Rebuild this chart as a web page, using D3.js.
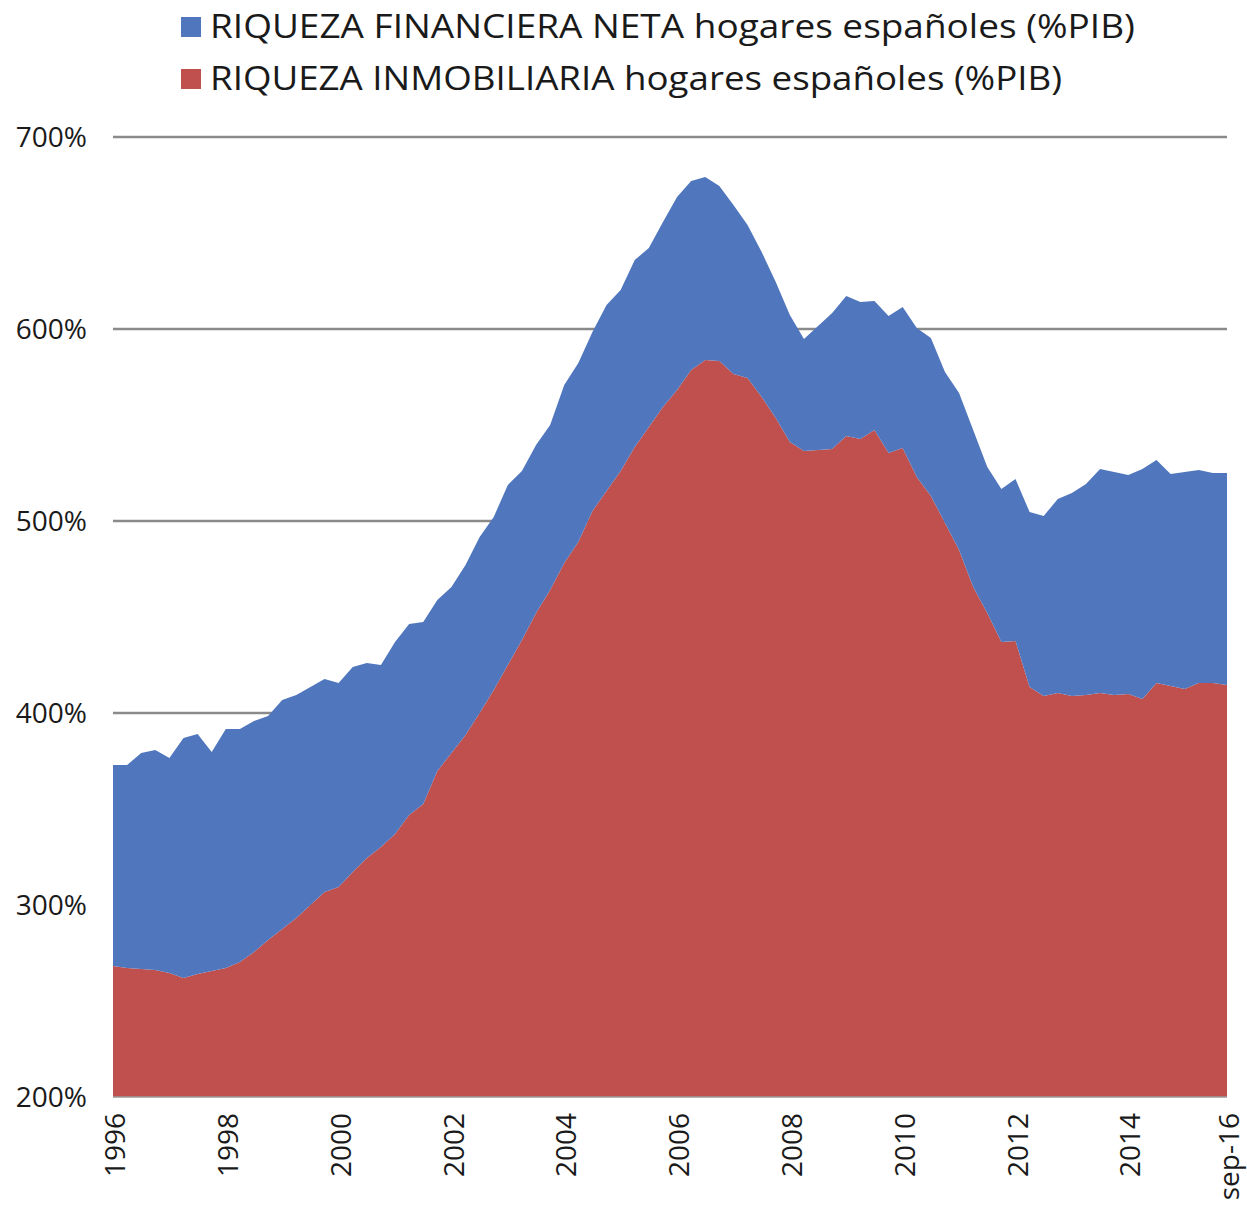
<!DOCTYPE html>
<html>
<head>
<meta charset="utf-8">
<script src="https://cdn.jsdelivr.net/npm/d3@7"></script>
<style>
  body { margin: 0; background: #fff; }
  svg text { font-family: "Open Sans", "Liberation Sans", sans-serif; fill: #1a1a1a; }
</style>
</head>
<body>
<svg width="1247" height="1213"></svg>
<script>
// quarterly, dic-96 ... sep-16 (80 points)
var inmobiliaria = [268.2, 267.2, 266.7, 266.1, 264.6, 262.0, 264.1, 265.6, 267.2, 270.3,
                    275.5, 281.8, 287.5, 293.2, 300.0, 306.8, 309.4, 317.2, 324.5, 330.2,
                    337.0, 346.9, 352.6, 369.8, 379.2, 388.5, 400.0, 412.0, 425.0, 438.0,
                    452.1, 464.1, 478.1, 489.1, 505.2, 515.6, 526.0, 538.5, 549.0, 559.4,
                    568.2, 578.6, 583.9, 583.3, 576.6, 574.5, 564.6, 553.6, 541.1, 536.5,
                    537.0, 537.5, 544.3, 542.7, 547.4, 535.4, 538.0, 522.9, 513.0, 499.0,
                    484.9, 465.6, 452.1, 437.0, 437.5, 413.5, 408.9, 410.4, 408.9, 409.4,
                    410.4, 409.4, 409.9, 407.3, 415.6, 414.1, 412.5, 415.6, 415.6, 414.6];

var financiera = [104.7, 105.7, 112.5, 114.6, 112.0, 125.0, 125.0, 114.1, 124.5, 121.4,
                  120.3, 116.6, 119.3, 116.2, 113.5, 110.9, 106.2, 106.8, 101.5, 94.8,
                  100.0, 99.5, 94.8, 89.1, 86.4, 88.6, 91.7, 90.1, 93.8, 88.0,
                  87.5, 85.9, 92.7, 93.2, 93.2, 96.9, 94.3, 97.4, 93.2, 96.3,
                  100.6, 98.5, 95.3, 91.2, 88.0, 79.7, 75.5, 70.9, 66.2, 58.3,
                  64.6, 70.8, 72.9, 71.4, 67.2, 71.4, 73.5, 77.6, 82.3, 78.6,
                  81.8, 81.8, 76.0, 79.7, 84.4, 91.2, 93.7, 101.1, 105.7, 109.9,
                  116.7, 116.1, 114.1, 119.8, 116.2, 110.4, 113.0, 111.0, 109.4, 110.4];

var tickIdx = [0, 8, 16, 24, 32, 40, 48, 56, 64, 72, 79];
var tickLabels = ["1996", "1998", "2000", "2002", "2004", "2006", "2008", "2010", "2012", "2014", "sep-16"];
var yTicks = [200, 300, 400, 500, 600, 700];

var seriesNames = ["RIQUEZA FINANCIERA NETA hogares españoles (%PIB)",
                   "RIQUEZA INMOBILIARIA hogares españoles (%PIB)"];
var colors = { fin: "#5076BD", inm: "#C0504D" };

var plotLeft = 113, plotRight = 1227, plotTop = 137, plotBottom = 1097;

var svg = d3.select('svg');

var rows = inmobiliaria.map(function(v, i){ return { i: i, inm: v, fin: financiera[i] } });

var x = d3.scaleLinear().domain([0, rows.length - 1]).range([plotLeft, plotRight]);
var y = d3.scaleLinear().domain([200, 700]).range([plotBottom, plotTop]);

var stacked = d3.stack().keys(["inm", "fin"])(rows);

// grid
svg.append('g')
    .attr('class', 'grid')
    .selectAll('line')
    .data(yTicks.filter(function(d){ return d > 200 }))
    .enter()
    .append('line')
        .attr('x1', plotLeft)
        .attr('x2', plotRight)
        .attr('y1', function(d){ return y(d) })
        .attr('y2', function(d){ return y(d) })
        .attr('stroke', '#8a8a8a')
        .attr('stroke-width', 2.5);

svg.append('clipPath')
    .attr('id', 'plot')
    .append('rect')
        .attr('x', plotLeft)
        .attr('y', 0)
        .attr('width', plotRight - plotLeft)
        .attr('height', plotBottom);

var area = d3.area()
    .x(function(d){ return x(d.data.i) })
    .y0(function(d){ return y(d[0]) })
    .y1(function(d){ return y(d[1]) });

svg.append('g')
    .attr('clip-path', 'url(#plot)')
    .selectAll('path')
    .data(stacked)
    .enter()
    .append('path')
        .attr('d', area)
        .attr('fill', function(d){ return colors[d.key] });

// baseline
svg.append('line')
    .attr('x1', plotLeft)
    .attr('x2', plotRight)
    .attr('y1', y(200))
    .attr('y2', y(200))
    .attr('stroke', '#9a9a9a')
    .attr('stroke-width', 1.5);

// y labels
svg.append('g')
    .selectAll('text')
    .data(yTicks)
    .enter()
    .append('text')
        .attr('x', 87)
        .attr('y', function(d){ return y(d) })
        .attr('dy', '0.35em')
        .attr('text-anchor', 'end')
        .style('font-size', '28px')
        .text(function(d){ return d + '%' });

// x labels, rotated
svg.append('g')
    .selectAll('text')
    .data(tickIdx)
    .enter()
    .append('text')
        .attr('transform', function(d){ return 'translate(' + (x(d) + 2) + ',' + 1113 + ') rotate(-90)' })
        .attr('dy', '0.36em')
        .attr('text-anchor', 'end')
        .style('font-size', '28px')
        .text(function(d, i){ return tickLabels[i] });

// legend
var legend = svg.append('g')
    .selectAll('g')
    .data([{ name: seriesNames[0], c: colors.fin, w: 925 }, { name: seriesNames[1], c: colors.inm, w: 852 }])
    .enter()
    .append('g')
        .attr('transform', function(d, i){ return 'translate(181,' + (17 + i * 52) + ')' });

legend.append('rect')
    .attr('width', 20)
    .attr('height', 20)
    .attr('fill', function(d){ return d.c });

legend.append('text')
    .attr('x', 29)
    .attr('y', 21)
    .style('font-size', '33px')
    .attr('textLength', function(d){ return d.w })
    .attr('lengthAdjust', 'spacingAndGlyphs')
    .text(function(d){ return d.name });
</script>
</body>
</html>
